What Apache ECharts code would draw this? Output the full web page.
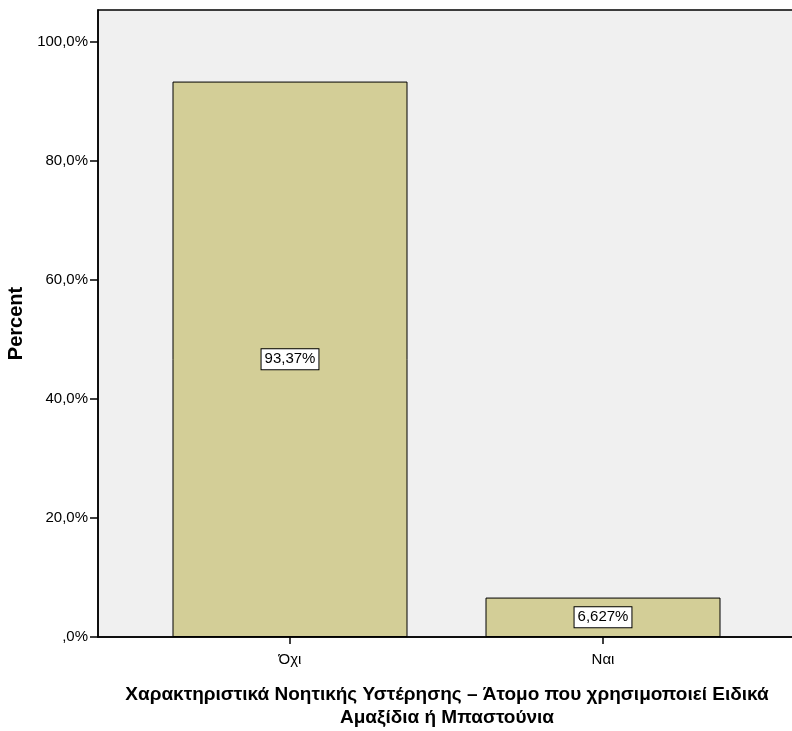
<!DOCTYPE html>
<html><head><meta charset="utf-8">
<script src="https://cdn.jsdelivr.net/npm/echarts@6/dist/echarts.min.js"></script>
<style>html,body{margin:0;padding:0;background:#fff}#c{width:792px;height:731px}</style>
</head><body><div id="c"></div>
<script>
const categories = ['Όχι', 'Ναι'];
const percents = [93.37, 6.627];
const barLabels = ['93,37%', '6,627%'];
const yTicks = [0, 20, 40, 60, 80, 100];
const yTickLabels = [',0%', '20,0%', '40,0%', '60,0%', '80,0%', '100,0%'];
const xTitle = 'Χαρακτηριστικά Νοητικής Υστέρησης – Άτομο που χρησιμοποιεί Ειδικά\nΑμαξίδια ή Μπαστούνια';
const yTitle = 'Percent';

const FONT = '"Liberation Sans Narrow","Arial Narrow","Liberation Sans",Arial,sans-serif';
const YMAX = 105.4;
const chart = echarts.init(document.getElementById('c'));
chart.setOption({
  animation: false,
  grid: [
    {left: 98, right: -4, top: 10, bottom: 94, show: true, backgroundColor: '#f0f0f0', borderColor: '#000', borderWidth: 1.5, containLabel: false, outerBoundsMode: 'none'},
    {left: 133.5, right: 32.5, top: 10, bottom: 94, containLabel: false, outerBoundsMode: 'none'}
  ],
  xAxis: [
    {gridIndex: 0, type: 'value', min: 0, max: 1, axisLine: {show: true, onZero: false, lineStyle: {color: '#000', width: 1.5}},
     axisTick: {show: false}, axisLabel: {show: false}, splitLine: {show: false},
     name: xTitle, nameLocation: 'middle', nameGap: 46,
     nameTextStyle: {fontFamily: FONT, fontWeight: 'bold', fontSize: 19, color: '#000', lineHeight: 23}},
    {gridIndex: 1, type: 'category', data: categories, axisLine: {show: false},
     axisTick: {show: true, alignWithLabel: true, length: 7, lineStyle: {color: '#000', width: 1.5}},
     axisLabel: {fontFamily: FONT, fontSize: 15, color: '#000', margin: 15}}
  ],
  yAxis: [
    {gridIndex: 0, type: 'value', min: 0, max: YMAX, interval: 20,
     axisLine: {show: true, lineStyle: {color: '#000', width: 1.5}},
     axisTick: {show: true, length: 8, lineStyle: {color: '#000', width: 1.5}},
     axisLabel: {fontFamily: FONT, fontSize: 15, color: '#000', margin: 10, showMaxLabel: false,
       formatter: v => { const i = yTicks.indexOf(Math.round(v * 1000) / 1000); return i >= 0 ? yTickLabels[i] : ''; }},
     splitLine: {show: false},
     name: yTitle, nameLocation: 'middle', nameGap: 65, nameRotate: 90,
     nameTextStyle: {fontFamily: '"Liberation Sans",Arial,sans-serif', fontWeight: 'bold', fontSize: 20, color: '#000'}},
    {gridIndex: 1, type: 'value', min: 0, max: YMAX, show: false}
  ],
  series: [{
    type: 'bar', xAxisIndex: 1, yAxisIndex: 1, data: percents, barWidth: 235,
    itemStyle: {color: '#d3ce97', borderColor: '#000', borderWidth: 1},
    label: {show: true, position: 'inside', formatter: p => barLabels[p.dataIndex],
      fontFamily: FONT, fontSize: 15, color: '#000', backgroundColor: '#fff',
      borderColor: '#000', borderWidth: 1, padding: [3, 3, 2, 3]}
  }]
});
</script></body></html>
